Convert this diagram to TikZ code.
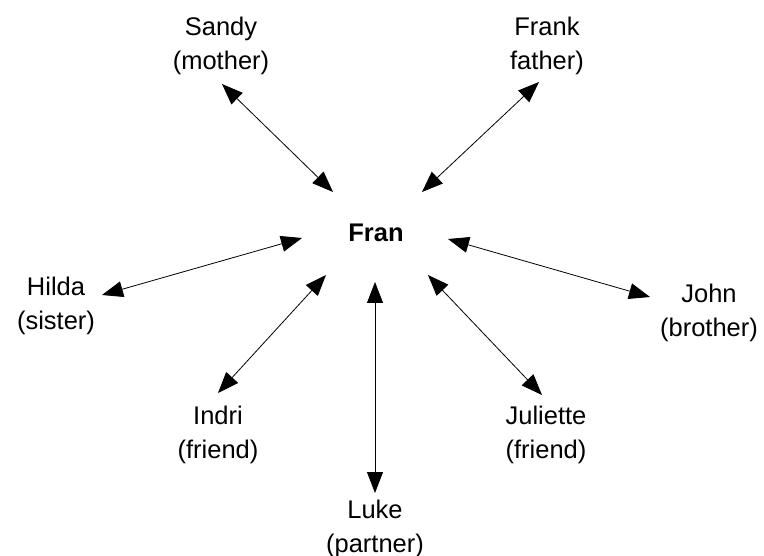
\documentclass[tikz,border=0pt]{standalone}
\usepackage{fontspec}
\setmainfont{Liberation Sans}
\usetikzlibrary{arrows.meta}
\begin{document}
\begin{tikzpicture}[x=1pt,y=-1pt,
  person/.style={align=center,inner sep=0pt,anchor=base,
    font=\fontsize{25.5}{34}\selectfont},
  link/.style={line width=0.8pt,
    {Triangle[length=21pt,width=16pt]}-{Triangle[length=21pt,width=16pt]}}]
\useasboundingbox (0,0) rectangle (764,556);

% people (placed by the baseline of their last line)
\node[person,font=\fontsize{25.5}{34}\selectfont\bfseries] (fran) at (376,242) {Fran};
\node[person] (sandy) at (221,70) {Sandy\\(mother)};
\node[person] (frank) at (547,70) {Frank\\father)};
\node[person] (hilda) at (56,330) {Hilda\\(sister)};
\node[person] (john) at (709,337) {John\\(brother)};
\node[person] (indri) at (218,458) {Indri\\(friend)};
\node[person] (juliette) at (546,458) {Juliette\\(friend)};
\node[person] (luke) at (375,552) {Luke\\(partner)};

% arrow ends
\coordinate (fs) at (333,192);  \coordinate (s) at (222,84);
\coordinate (ff) at (422,192);  \coordinate (f) at (539,82);
\coordinate (fh) at (302,238);  \coordinate (h) at (102,295);
\coordinate (fj) at (448,239);  \coordinate (j) at (650,297);
\coordinate (fi) at (326,275);  \coordinate (i) at (218,393);
\coordinate (fl) at (375,282);  \coordinate (l) at (375,493);
\coordinate (fu) at (428,275);  \coordinate (u) at (542,395);

% relations
\draw[link] (fs) -- (s);
\draw[link] (ff) -- (f);
\draw[link] (fh) -- (h);
\draw[link] (fj) -- (j);
\draw[link] (fi) -- (i);
\draw[link] (fl) -- (l);
\draw[link] (fu) -- (u);
\end{tikzpicture}
\end{document}
